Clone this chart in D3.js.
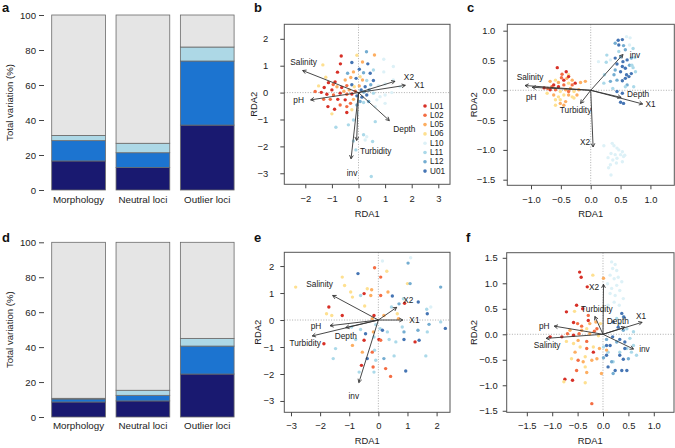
<!DOCTYPE html>
<html><head><meta charset="utf-8">
<script src="https://cdn.jsdelivr.net/npm/d3@7"></script>
<style>body{margin:0;background:#fff} svg{display:block;font-family:"Liberation Sans",Arial,Helvetica,sans-serif}</style>
</head><body><svg id="c" width="675" height="448"></svg>
<script>
// ---------------- DATA ----------------
const barCategories = ["Morphology", "Neutral loci", "Outlier loci"];
const barComponents = ["env", "space", "shared", "residual"];
// panel a (% of total variation)
const aEnv = [16.6, 12.8, 37.1];
const aSpace = [11.6, 8.5, 36.6];
const aShared = [3.0, 5.4, 8.0];
const aResidual = [68.8, 73.3, 18.3];
// panel d
const dEnv = [8.6, 9.2, 24.6];
const dSpace = [1.7, 3.2, 16.0];
const dShared = [0.4, 2.9, 4.4];
const dResidual = [89.3, 84.7, 55.0];
const barYTicks = [0, 20, 40, 60, 80, 100];

const groups = ["L01", "L02", "L05", "L06", "L10", "L11", "L12", "U01"];

// panel b: [RDA1, RDA2, population]
const pointsB = [
[-0.65,1.36,"L01"],[-0.06,1.39,"L06"],[0.30,1.52,"L12"],[0.60,1.40,"L05"],[-0.25,1.12,"U01"],[0.15,1.14,"L05"],
[0.35,1.07,"U01"],[0.95,1.24,"L10"],[1.31,0.97,"L10"],[-1.34,1.03,"L06"],[-0.68,1.07,"L01"],[-0.79,0.76,"L01"],
[-0.41,0.72,"L12"],[-0.19,0.77,"L05"],[0.03,0.87,"U01"],[0.19,0.74,"L12"],[0.44,0.72,"U01"],[0.56,0.84,"L11"],
[0.95,0.77,"L10"],[1.31,0.47,"L10"],[-1.23,0.57,"L06"],[-1.13,0.37,"L01"],[-0.88,0.40,"L01"],[-0.50,0.47,"L05"],
[-0.29,0.56,"L05"],[-0.09,0.53,"U01"],[0.06,0.59,"L06"],[0.15,0.47,"L05"],[0.31,0.45,"L11"],[0.56,0.45,"U01"],
[-1.50,0.25,"L06"],[-1.29,0.19,"L01"],[-1.00,0.10,"L01"],[-0.81,0.22,"L05"],[-0.63,0.19,"L01"],[-0.44,0.26,"L02"],
[-0.25,0.29,"U01"],[-0.16,0.22,"L06"],[0.03,0.25,"L05"],[0.25,0.22,"U01"],[0.46,0.29,"L12"],[0.75,0.26,"L10"],
[1.00,0.32,"L10"],[1.56,0.22,"L10"],[-1.63,0.04,"L02"],[-1.40,0.01,"L01"],[-1.19,-0.06,"L01"],[-0.94,-0.09,"L02"],
[-0.69,-0.02,"L01"],[-0.44,-0.06,"L02"],[-0.25,-0.05,"L01"],[-0.06,-0.12,"U01"],[0.13,-0.17,"U01"],[0.31,-0.09,"U01"],
[0.56,-0.02,"L11"],[0.81,-0.15,"L10"],[1.00,-0.09,"L10"],[1.25,0.00,"L10"],[-1.31,-0.25,"L02"],[-1.06,-0.25,"L02"],
[-0.78,-0.25,"L01"],[-0.50,-0.27,"L01"],[-0.19,-0.25,"L05"],[0.06,-0.33,"L12"],[0.38,-0.33,"L12"],[0.69,-0.27,"L10"],
[1.00,-0.40,"L10"],[-1.15,-0.52,"L01"],[-0.90,-0.62,"L01"],[-0.69,-0.46,"L02"],[-0.44,-0.52,"L02"],[-0.06,-0.46,"L12"],
[0.19,-0.37,"L11"],[0.63,-0.52,"L10"],[-1.00,-0.79,"L06"],[-0.44,-0.74,"L01"],[-0.25,-0.64,"L06"],[0.63,-1.08,"L11"],
[-0.85,-1.29,"L11"],[-0.38,-1.20,"L11"],[-0.19,-1.02,"L11"],[-0.03,-0.77,"L10"],[0.19,-1.57,"L11"],[0.31,-1.64,"L10"],
[0.53,-1.82,"L11"],[-0.19,-1.80,"L11"],[0.25,-1.76,"L10"],[-0.10,-2.13,"L11"],[0.48,-3.12,"L11"],
[-0.35,0.10,"L05"],[-0.12,0.05,"L02"],[0.10,0.10,"U01"],[0.20,0.02,"L12"],[-0.55,0.05,"L05"],[0.40,0.10,"L12"],
[-0.30,-0.40,"L02"],[-0.95,0.30,"L02"]
];
const arrowsB = [["Salinity",-2.10,0.82],["pH",-1.80,-0.27],["X2",1.37,0.42],["X1",1.76,0.27],
["Depth",1.16,-1.04],["Turbidity",-0.07,-1.78],["inv",-0.28,-2.46]];

// panel c
const pointsC = [
[0.46,0.84,"U01"],[0.53,0.85,"U01"],[0.60,0.90,"L10"],[0.66,0.88,"L10"],[0.41,0.79,"L12"],[0.47,0.76,"U01"],
[0.55,0.75,"L12"],[0.65,0.76,"L10"],[0.71,0.70,"L11"],[0.58,0.68,"L12"],[0.47,0.65,"L11"],[0.27,0.59,"L11"],
[0.33,0.51,"L10"],[0.41,0.54,"U01"],[0.50,0.56,"L12"],[0.54,0.48,"U01"],[0.61,0.51,"U01"],[0.68,0.54,"L12"],
[0.74,0.55,"L11"],[0.13,0.48,"L10"],[0.26,0.47,"L11"],[0.44,0.44,"U01"],[0.53,0.40,"U01"],[0.58,0.37,"U01"],
[0.65,0.42,"L12"],[0.71,0.38,"L11"],[0.41,0.34,"L12"],[0.50,0.31,"U01"],[0.60,0.26,"U01"],[0.64,0.23,"U01"],
[0.68,0.28,"U01"],[0.75,0.31,"L11"],[0.39,0.26,"L12"],[0.22,0.12,"L11"],[0.33,0.15,"L12"],[0.44,0.17,"L12"],
[0.53,0.16,"U01"],[0.61,0.09,"L12"],[0.72,0.06,"L11"],[0.58,0.20,"U01"],[0.37,0.03,"L11"],[0.44,-0.02,"U01"],
[0.53,-0.05,"U01"],[0.50,-0.20,"U01"],[0.55,-0.22,"U01"],[0.58,0.06,"L11"],[0.69,0.42,"L11"],[0.23,0.26,"L11"],
[0.39,-0.93,"L10"],[0.44,-0.97,"L10"],[0.47,-1.00,"L10"],[0.53,-1.03,"L10"],[0.34,-1.06,"L10"],[0.41,-1.08,"L10"],
[0.50,-1.08,"L10"],[0.55,-1.11,"L10"],[0.29,-1.13,"L10"],[0.37,-1.17,"L10"],[0.44,-1.14,"L10"],[0.43,-1.22,"L10"],
[0.33,-1.25,"L10"],[0.53,-1.20,"L10"],[0.36,-0.89,"L10"],[0.34,-1.42,"L10"],[0.30,-1.30,"L10"],[0.22,-0.93,"L10"],
[0.57,-1.09,"L10"],
[-0.56,0.38,"L01"],[-0.49,0.21,"L02"],[-0.45,0.17,"L01"],[-0.54,0.13,"L05"],[-0.40,0.20,"L05"],[-0.37,0.26,"L06"],
[-0.59,0.17,"L06"],[-0.68,0.15,"L05"],[-0.65,0.06,"L02"],[-0.54,0.06,"L01"],[-0.45,0.09,"L02"],[-0.37,0.12,"L06"],
[-0.31,0.17,"L05"],[-0.26,0.12,"L01"],[-0.17,0.13,"L05"],[-0.09,0.15,"L05"],[-0.68,0.01,"L01"],[-0.59,0.01,"L02"],
[-0.51,-0.02,"L06"],[-0.42,0.01,"L05"],[-0.34,0.03,"L05"],[-0.28,-0.02,"L06"],[-0.20,0.01,"L05"],[-0.73,-0.05,"L06"],
[-0.62,-0.08,"L05"],[-0.54,-0.11,"L06"],[-0.45,-0.08,"L06"],[-0.37,-0.08,"L05"],[-0.31,-0.11,"L06"],[-0.59,-0.16,"L06"],
[-0.51,-0.16,"L06"],[-0.42,-0.19,"L05"],[-0.28,-0.13,"L06"],[-0.45,-0.25,"L05"],[-0.51,-0.22,"L05"],[-0.59,-0.25,"L06"],
[-0.37,0.23,"L01"],[-0.41,0.31,"L01"],[-0.48,0.27,"L02"],[-0.62,0.09,"L01"],[-0.31,0.09,"L02"],[-0.78,0.04,"L01"],
[-0.72,0.03,"L02"],[-0.37,-0.02,"L02"],[-0.23,-0.08,"L05"]
];
const arrowsC = [["Salinity",-1.10,0.08],["pH",-0.98,0.05],["inv",0.54,0.60],["Depth",0.51,-0.12],
["X1",0.87,-0.23],["Turbidity",-0.17,-0.22],["X2",0.04,-0.95]];

// panel e
const pointsE = [
[1.11,2.31,"L10"],[1.02,2.11,"L12"],[0.14,2.19,"L10"],[-0.13,1.94,"L02"],[0.08,1.59,"L02"],[0.29,1.81,"L06"],
[-0.70,1.72,"U01"],[-2.84,1.22,"L06"],[-1.24,1.59,"L06"],[-1.16,1.28,"L06"],[1.00,1.35,"L06"],[1.09,1.35,"L12"],
[2.14,1.22,"L12"],[-0.38,1.16,"L06"],[-0.23,1.12,"L05"],[-0.49,0.98,"L01"],[-0.61,0.91,"L11"],[-0.95,1.04,"L06"],
[-0.89,0.85,"L06"],[-0.26,0.91,"L05"],[0.08,0.91,"L02"],[0.33,1.04,"L05"],[0.48,0.89,"U01"],[0.71,0.60,"L12"],
[0.86,0.79,"L11"],[0.90,0.62,"L01"],[1.37,0.67,"U01"],[1.80,0.48,"L10"],[-0.47,0.52,"L06"],[-1.70,0.48,"L01"],
[-1.24,0.17,"L01"],[-1.78,0.23,"L06"],[-1.60,0.17,"L06"],[-0.15,0.17,"L01"],[-0.21,0.05,"L05"],[0.19,0.17,"L05"],
[0.45,0.48,"L11"],[0.65,0.23,"L06"],[0.69,0.05,"L05"],[1.68,0.23,"U01"],[2.14,-0.07,"L11"],[-0.92,-0.26,"L11"],
[-0.61,-0.35,"L11"],[-0.44,-0.51,"U01"],[-0.17,-0.44,"L05"],[-0.09,-0.17,"L11"],[0.06,-0.32,"L11"],[0.14,-0.38,"U01"],
[0.31,-0.44,"L11"],[0.82,-0.26,"L11"],[0.88,-0.44,"L12"],[1.36,-0.38,"L12"],[1.68,-0.44,"L11"],[-1.87,-0.88,"L01"],
[-1.47,-1.06,"L11"],[-0.89,-0.94,"L05"],[-0.78,-0.72,"L11"],[-0.49,-0.75,"L01"],[-0.15,-0.63,"L11"],[0.02,-0.72,"L01"],
[0.08,-0.75,"L02"],[0.37,-0.72,"L11"],[0.60,-0.81,"L11"],[0.88,-0.72,"U01"],[1.26,-0.81,"L01"],[1.40,-0.75,"U01"],
[-1.55,-1.43,"L11"],[-0.55,-1.19,"L05"],[-0.38,-1.43,"U01"],[-0.13,-1.12,"L11"],[0.19,-1.43,"L12"],[0.54,-1.33,"L11"],
[1.63,-1.33,"L11"],[-0.58,-1.68,"L01"],[-0.18,-1.74,"L02"],[-0.09,-1.49,"L11"],[0.25,-1.80,"L02"],[-0.66,-1.93,"L11"],
[-0.15,-1.93,"L11"],[0.42,-2.09,"L02"],[0.94,-1.89,"U01"],[-0.21,-1.19,"L02"],[2.30,-0.31,"U01"],[1.66,0.40,"L11"],
[1.74,-0.16,"L12"]
];
const arrowsE = [["Salinity",-1.57,0.91],["pH",-1.66,-0.21],["Depth",-1.12,-0.28],["Turbidity",-2.27,-0.59],
["X2",0.63,0.47],["X1",0.84,0.00],["inv",-0.67,-2.32]];

// panel f
const pointsF = [
[0.17,1.42,"L10"],[0.24,1.37,"L10"],[0.19,1.29,"L10"],[0.27,1.25,"L10"],[0.14,1.16,"L10"],[0.22,1.09,"L10"],
[0.30,1.12,"L10"],[0.37,1.03,"L10"],[0.27,0.96,"L10"],[0.17,0.90,"L10"],[0.33,0.86,"L10"],[0.40,0.70,"L10"],
[0.22,0.63,"L10"],[0.10,0.57,"L10"],[0.32,0.57,"L10"],[0.24,0.76,"L10"],[0.14,0.80,"L10"],[0.09,0.99,"L10"],
[0.27,0.31,"L11"],[0.40,0.34,"L11"],[0.33,0.21,"L11"],[0.47,0.11,"L11"],[0.60,0.05,"L11"],[0.53,-0.08,"L11"],
[0.60,-0.22,"L11"],[0.56,-0.35,"L11"],[0.66,-0.41,"L11"],[0.47,-0.28,"L11"],[0.33,-0.35,"L11"],[0.20,-0.54,"L11"],
[0.10,-0.35,"L11"],[0.01,-0.25,"L11"],
[0.37,0.41,"U01"],[0.41,0.34,"U01"],[0.20,0.24,"U01"],[0.30,0.14,"U01"],[0.40,0.08,"L12"],[0.19,-0.05,"U01"],
[0.33,-0.10,"U01"],[0.43,-0.15,"U01"],[0.27,-0.15,"L12"],[0.07,-0.10,"L12"],[0.14,-0.22,"U01"],[0.43,-0.28,"U01"],
[0.07,-0.41,"U01"],[0.17,-0.54,"L12"],[0.33,-0.41,"U01"],[0.01,-0.46,"L12"],[0.10,-0.64,"U01"],[0.24,-0.71,"U01"],
[0.37,-0.71,"U01"],[0.47,-0.71,"U01"],[0.20,-0.77,"L12"],[0.07,-0.22,"U01"],[0.50,-0.48,"L12"],[0.40,-0.49,"U01"],
[-0.46,1.22,"L01"],[-0.43,1.12,"L01"],[-0.31,0.93,"L01"],[-0.20,1.16,"L06"],[0.01,1.10,"L05"],[-0.52,0.57,"L01"],
[-0.72,0.44,"L01"],[-0.56,0.45,"L06"],[-0.58,0.23,"L01"],[-0.50,0.21,"L02"],[-0.42,0.16,"L02"],[-0.29,0.27,"L01"],
[-0.26,0.21,"L05"],[-0.14,0.24,"L05"],[-0.05,0.21,"L06"],[-0.12,0.11,"L02"],[-0.32,0.11,"L06"],[-0.42,0.08,"L05"],
[-0.65,0.08,"L05"],[-0.81,-0.05,"L01"],[-1.04,-0.05,"L01"],[-0.70,0.01,"L02"],[-0.58,-0.02,"L01"],[-0.47,0.01,"L02"],
[-0.26,0.01,"L05"],[-0.17,0.06,"L02"],[-0.09,-0.03,"L06"],[-0.58,-0.18,"L06"],[-0.49,-0.12,"L05"],[-0.32,-0.14,"L02"],
[-0.72,-0.14,"L06"],[-0.45,-0.25,"L06"],[-0.32,-0.28,"L02"],[-0.19,-0.25,"L06"],[-0.07,-0.28,"L05"],[-0.55,-0.35,"L05"],
[-0.62,-0.48,"L06"],[-0.49,-0.51,"L02"],[-0.35,-0.44,"L06"],[-0.22,-0.51,"L05"],[-0.12,-0.48,"L05"],[-0.39,-0.54,"L05"],
[-0.19,-0.35,"L01"],[-0.52,-0.71,"L02"],[-0.35,-0.64,"L06"],[-0.03,-0.77,"L05"],[-0.32,-0.75,"L05"],[-0.75,-0.88,"L01"],
[-0.77,-0.93,"L06"],[-0.60,-0.90,"L01"],[-0.35,-0.95,"L06"],[-0.22,-1.36,"L02"],[-0.40,0.50,"L01"],[-0.29,0.37,"L02"],
[0.07,-0.31,"L05"]
];
const arrowsF = [["X2",0.01,0.98],["Turbidity",-0.16,0.35],["X1",0.77,0.235],["Depth",0.43,0.14],
["pH",-0.96,0.16],["Salinity",-1.12,-0.08],["inv",0.60,-0.29]];

// ---------------- STYLE / LAYOUT ----------------
const barColors = {env: "#191970", space: "#1C74D0", shared: "#ADD8E6", residual: "#E5E5E5"};
const groupColors = {L01:"#D73027",L02:"#F46D43",L05:"#FDAE61",L06:"#FEE090",L10:"#DDF1F7",L11:"#ABD9E9",L12:"#74ADD1",U01:"#4575B4"};
const fmtInt = d => (d < 0 ? "\u2212" : "") + Math.abs(d);
const fmtDec = d => (d < 0 ? "\u2212" : "") + Math.abs(d).toFixed(1);

const svg = d3.select("#c");

function panelLetter(t, x, y) {
  svg.append("text").attr("x", x).attr("y", y).attr("font-size", 13).attr("font-weight", "bold").attr("fill", "#111").text(t);
}

function barPanel(env, space, shared, residual, yTop, yBottom, labelY) {
  const rows = barCategories.map((c, i) => ({cat: c, env: env[i], space: space[i], shared: shared[i], residual: residual[i]}));
  const x = d3.scaleBand().domain(barCategories).range([46.4, 239.4]).paddingInner(0.165).paddingOuter(0.0825);
  const y = d3.scaleLinear().domain([0, 100]).range([yBottom, yTop]);
  const stack = d3.stack().keys(barComponents)(rows);
  const g = svg.append("g");
  g.selectAll("g.layer").data(stack).join("g").attr("fill", d => barColors[d.key])
    .selectAll("rect").data(d => d).join("rect")
    .attr("x", d => x(d.data.cat)).attr("width", x.bandwidth())
    .attr("y", d => y(d[1])).attr("height", d => y(d[0]) - y(d[1]))
    .attr("stroke", "#6a6a6a").attr("stroke-width", 0.8);
  const ax = g.append("g").attr("transform", "translate(44,0)")
    .call(d3.axisLeft(y).tickValues(barYTicks).tickSize(5).tickPadding(3));
  ax.select(".domain").remove();
  ax.selectAll("line").attr("stroke", "#444");
  ax.selectAll("text").attr("font-size", 9.6).attr("fill", "#222").attr("font-family", "Liberation Sans, Arial, sans-serif");
  g.selectAll("text.cat").data(barCategories).join("text").attr("class", "cat")
    .attr("x", d => x(d) + x.bandwidth() / 2).attr("y", labelY).attr("text-anchor", "middle")
    .attr("dominant-baseline", "central").attr("font-size", 9.8).attr("fill", "#222").text(d => d);
  g.append("text").attr("transform", `translate(9,${(yTop + yBottom) / 2}) rotate(-90)`)
    .attr("text-anchor", "middle").attr("dominant-baseline", "central").attr("font-size", 9.6).attr("fill", "#222")
    .text("Total variation (%)");
}

function scatterPanel(cfg) {
  const [x0, x1, y0, y1] = cfg.box;
  const x = d3.scaleLinear().domain(cfg.xd).range([x0, x1]);
  const y = d3.scaleLinear().domain(cfg.yd).range([y1, y0]);
  const g = svg.append("g");
  // dotted zero lines
  g.append("line").attr("x1", x(0)).attr("x2", x(0)).attr("y1", y0).attr("y2", y1)
    .attr("stroke", "#999").attr("stroke-width", 0.8).attr("stroke-dasharray", "1,1.6");
  g.append("line").attr("x1", x0).attr("x2", x1).attr("y1", y(0)).attr("y2", y(0))
    .attr("stroke", "#999").attr("stroke-width", 0.8).attr("stroke-dasharray", "1,1.6");
  // points
  g.selectAll("circle").data(cfg.points).join("circle")
    .attr("cx", d => x(d[0])).attr("cy", d => y(d[1])).attr("r", 1.7)
    .attr("fill", d => groupColors[d[2]]);
  // arrows
  cfg.arrows.forEach(a => {
    const sx = x(0), sy = y(0), ex = x(a[1]), ey = y(a[2]);
    const ang = Math.atan2(ey - sy, ex - sx), L = 4, w = 0.5;
    const path = `M${sx},${sy}L${ex},${ey}` +
      `M${ex - L * Math.cos(ang - w)},${ey - L * Math.sin(ang - w)}L${ex},${ey}L${ex - L * Math.cos(ang + w)},${ey - L * Math.sin(ang + w)}`;
    g.append("path").attr("d", path).attr("fill", "none").attr("stroke", "#333").attr("stroke-width", 0.9);
    const off = cfg.labelOffsets[a[0]];
    g.append("text").attr("x", ex + off[0]).attr("y", ey + off[1]).attr("text-anchor", "middle")
      .attr("dominant-baseline", "central").attr("font-size", 8.3).attr("fill", "#222").text(a[0]);
  });
  // box
  g.append("rect").attr("x", x0).attr("y", y0).attr("width", x1 - x0).attr("height", y1 - y0)
    .attr("fill", "none").attr("stroke", "#555").attr("stroke-width", 1);
  // axes
  const ax = g.append("g").attr("transform", `translate(0,${y1})`)
    .call(d3.axisBottom(x).tickValues(cfg.xt).tickFormat(cfg.fmt).tickSize(4).tickPadding(cfg.xpad));
  const ay = g.append("g").attr("transform", `translate(${x0},0)`)
    .call(d3.axisLeft(y).tickValues(cfg.yt).tickFormat(cfg.fmt).tickSize(4).tickPadding(cfg.ypad));
  [ax, ay].forEach(a => {
    a.select(".domain").remove();
    a.selectAll("line").attr("stroke", "#444");
    a.selectAll("text").attr("font-size", 9.4).attr("fill", "#222").attr("font-family", "Liberation Sans, Arial, sans-serif");
  });
  g.append("text").attr("x", (x0 + x1) / 2).attr("y", cfg.xlabY).attr("text-anchor", "middle")
    .attr("dominant-baseline", "central").attr("font-size", 9.4).attr("fill", "#222").text("RDA1");
  g.append("text").attr("transform", `translate(${cfg.ylabX},${(y0 + y1) / 2}) rotate(-90)`)
    .attr("text-anchor", "middle").attr("dominant-baseline", "central").attr("font-size", 9.4).attr("fill", "#222").text("RDA2");
  return {x, y, g};
}

// panels a, d
panelLetter("a", 2, 12);
barPanel(aEnv, aSpace, aShared, aResidual, 15, 190, 199);
panelLetter("d", 2, 242);
barPanel(dEnv, dSpace, dShared, dResidual, 242.3, 417, 425.7);

// panel b
panelLetter("b", 254, 12);
const pb = scatterPanel({
  box: [284.3, 450, 24.3, 184.3], xd: [-2.79, 3.44], yd: [-3.41, 2.54],
  xt: [-2, -1, 0, 1, 2, 3], yt: [-3, -2, -1, 0, 1, 2], fmt: fmtInt, xpad: 7, ypad: 12,
  points: pointsB, arrows: arrowsB, xlabY: 213, ylabX: 253,
  labelOffsets: {Salinity: [1, -8.5], pH: [-12, 0], X2: [14, -4.6], X1: [14, 0], Depth: [15, 8], Turbidity: [19, 11], inv: [1, 14]}
});
// legend in b
const leg = pb.g.append("g");
groups.forEach((k, i) => {
  const yy = 106 + i * 9.3;
  leg.append("circle").attr("cx", 425).attr("cy", yy).attr("r", 1.8).attr("fill", groupColors[k]);
  leg.append("text").attr("x", 430).attr("y", yy).attr("dominant-baseline", "central")
    .attr("font-size", 8.2).attr("fill", "#222").text(k);
});

// panel c
panelLetter("c", 467, 12);
scatterPanel({
  box: [507.3, 674.3, 24.3, 185.3], xd: [-1.397, 1.40], yd: [-1.594, 1.107],
  xt: [-1, -0.5, 0, 0.5, 1], yt: [-1.5, -1, -0.5, 0, 0.5, 1], fmt: fmtDec, xpad: 7, ypad: 8,
  points: pointsC, arrows: arrowsC, xlabY: 213, ylabX: 473,
  labelOffsets: {Salinity: [5, -9], pH: [-1, 9.5], inv: [12, 0], Depth: [17, -3], X1: [8, 0], Turbidity: [-5, 7], X2: [-8, -5]}
});

// panel e
panelLetter("e", 254, 242);
scatterPanel({
  box: [284.3, 450, 252.3, 412.3], xd: [-3.23, 2.46], yd: [-3.42, 2.51],
  xt: [-3, -2, -1, 0, 1, 2], yt: [-3, -2, -1, 0, 1, 2], fmt: fmtInt, xpad: 6, ypad: 6,
  points: pointsE, arrows: arrowsE, xlabY: 440, ylabX: 257,
  labelOffsets: {Salinity: [-13, -11], pH: [-14, 0], Depth: [0, 8], Turbidity: [-7, 7.3], X2: [11.6, -7.3], X1: [11.6, 0], inv: [-5, 13]}
});

// panel f
panelLetter("f", 466, 242);
scatterPanel({
  box: [506.7, 674, 252.7, 412.3], xd: [-1.896, 1.398], yd: [-1.53, 1.60],
  xt: [-1.5, -1, -0.5, 0, 0.5, 1], yt: [-1.5, -1, -0.5, 0, 0.5, 1, 1.5], fmt: fmtDec, xpad: 6, ypad: 5,
  points: pointsF, arrows: arrowsF, xlabY: 440, ylabX: 473,
  labelOffsets: {X2: [-9.4, 2.4], Turbidity: [2, -7], X1: [-1, -6], Depth: [-7, -6], pH: [-10, 0], Salinity: [1, 7], inv: [11, 0]}
});
</script></body></html>
